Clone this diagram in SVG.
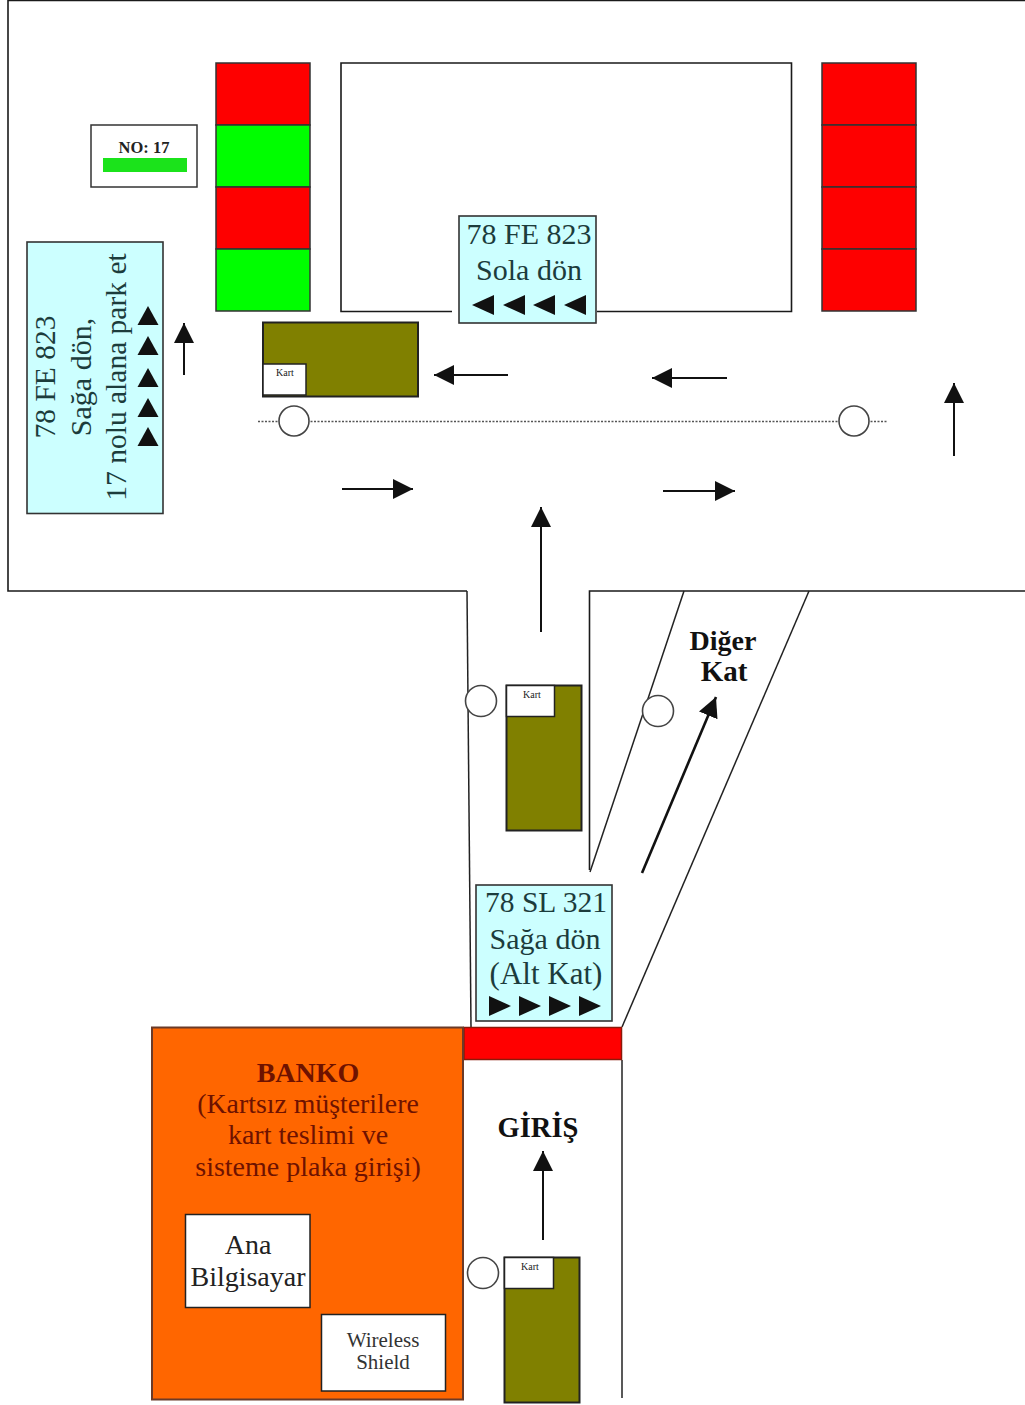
<svg xmlns="http://www.w3.org/2000/svg" width="1025" height="1405" viewBox="0 0 1025 1405">
<style>
text{font-family:"Liberation Serif","Times New Roman",serif;text-anchor:middle}
.w{fill:none;stroke:#1a1a1a;stroke-width:1.6}
.g{fill:none;stroke:#222;stroke-width:1.5}
.r{fill:#fe0000;stroke:#333;stroke-width:1.5}
.n{fill:#00fe00;stroke:#333;stroke-width:1.5}
.o{fill:#808000;stroke:#222;stroke-width:2}
.k{fill:#fff;stroke:#222;stroke-width:1.5}
.b{fill:#ccffff;stroke:#333;stroke-width:1.6}
.c{fill:#fff;stroke:#444;stroke-width:1.6}
.a{fill:none;stroke:#111;stroke-width:2;marker-end:url(#ah)}
.t{fill:#111;stroke:none}
.s{fill:#1c3c3c}
.kt{font-size:10px;fill:#222}
.d{fill:#6e1200}
</style>
<defs>
<marker id="ah" markerUnits="userSpaceOnUse" markerWidth="22" markerHeight="22" refX="20" refY="10" orient="auto"><path d="M0 0L20 10L0 20Z" fill="#111"/></marker>
<path id="tu" d="M-10.500 8L0 -11L10.500 8Z"/>
</defs>
<rect width="1025" height="1405" fill="#fff"/>

<g id="walls">
<path class="w" d="M1025 0.500H8V591H467"/>
<path class="w" d="M1025 591H589.500V870"/>
<path class="g" d="M467 591L471 1027"/>
<path class="g" d="M684 591L590 872"/>
<path class="g" d="M809 591L622 1027"/>
<path class="g" d="M622 1060V1398"/>
</g>

<g id="sensor-line"><path d="M258 421.500H888" fill="none" stroke="#555" stroke-width="1.500" stroke-dasharray="2 1.500"/></g>

<g id="slots-left">
<rect class="r" x="216" y="63" width="94" height="62"/>
<rect class="n" x="216" y="125" width="94" height="62"/>
<rect class="r" x="216" y="187" width="94" height="62"/>
<rect class="n" x="216" y="249" width="94" height="62"/>
</g>
<g id="building"><path class="w" d="M452 311.500H341V63H791.500V311.500H597"/></g>
<g id="slots-right">
<rect class="r" x="822" y="63" width="94" height="62"/>
<rect class="r" x="822" y="125" width="94" height="62"/>
<rect class="r" x="822" y="187" width="94" height="62"/>
<rect class="r" x="822" y="249" width="94" height="62"/>
</g>

<g id="no17">
<rect x="91" y="125" width="106" height="62" fill="#fff" stroke="#333" stroke-width="1.500"/>
<text x="144" y="153" font-size="16.500" font-weight="700" fill="#222">NO: 17</text>
<rect x="103" y="158" width="84" height="14" fill="#1be31b"/>
</g>

<g id="sign-left">
<rect class="b" x="27" y="242" width="136" height="271.500"/>
<g transform="translate(94 377) rotate(-90)">
<text class="s" x="0" y="-39" font-size="29.500">78 FE 823</text>
<text class="s" x="0" y="-3" font-size="30">Sağa dön,</text>
<text class="s" x="0" y="32" font-size="29.500">17 nolu alana park et</text>
</g>
<g class="t">
<use href="#tu" x="148" y="317"/><use href="#tu" x="148" y="347"/><use href="#tu" x="148" y="379"/><use href="#tu" x="148" y="409"/><use href="#tu" x="148" y="438"/>
</g>
</g>

<g id="sign-top">
<rect class="b" x="459" y="216" width="137" height="107"/>
<text class="s" x="529" y="244" font-size="30">78 FE 823</text>
<text class="s" x="529" y="280" font-size="30">Sola dön</text>
<g class="t">
<path d="M472 305L494 295V315Z"/><path d="M503 305L525 295V315Z"/><path d="M533 305L555 295V315Z"/><path d="M564 305L586 295V315Z"/>
</g>
</g>

<g id="car-top">
<rect class="o" x="263" y="322.500" width="155" height="74"/>
<rect class="k" x="263" y="364" width="43" height="31"/>
<text class="kt" x="285" y="376">Kart</text>
</g>
<g id="gate-top-left"><circle class="c" cx="294" cy="421" r="15"/></g>
<g id="gate-top-right"><circle class="c" cx="854" cy="421" r="15"/></g>

<g id="connectors">
<path class="a" d="M184 375V323"/>
<path class="a" d="M508 375H434"/>
<path class="a" d="M727 378H652"/>
<path class="a" d="M954 456V383"/>
<path class="a" d="M342 489H413"/>
<path class="a" d="M663 491H735"/>
<path class="a" d="M541 632V507"/>
<path class="a" style="stroke-width:2.600" d="M642 873L716 697"/>
<path class="a" d="M543 1240V1151"/>
</g>

<g id="gate-mid"><circle class="c" cx="481" cy="701" r="15.500"/></g>
<g id="gate-ramp"><circle class="c" cx="658" cy="711" r="15.500"/></g>
<g id="car-mid">
<rect class="o" x="506.500" y="685.500" width="75" height="145"/>
<rect class="k" x="506.500" y="685.500" width="48" height="31"/>
<text class="kt" x="532" y="698">Kart</text>
</g>

<g id="label-diger">
<text x="723" y="650" font-size="28" font-weight="700" fill="#111">Diğer</text>
<text x="724" y="681" font-size="29" font-weight="700" fill="#111">Kat</text>
</g>

<g id="sign-mid">
<rect class="b" x="476" y="885" width="136" height="136"/>
<text class="s" x="546" y="912" font-size="29.500">78 SL 321</text>
<text class="s" x="545" y="949" font-size="30">Sağa dön</text>
<text class="s" x="546" y="984" font-size="31">(Alt Kat)</text>
<g class="t">
<path d="M489 996L511 1006L489 1016Z"/><path d="M519 996L541 1006L519 1016Z"/><path d="M549 996L571 1006L549 1016Z"/><path d="M579 996L601 1006L579 1016Z"/>
</g>
</g>

<g id="barrier"><rect x="464" y="1027.500" width="157.500" height="32" fill="#f00" stroke="#8a1a0a" stroke-width="1.500"/></g>

<g id="banko">
<rect x="152" y="1027.500" width="311" height="372" fill="#ff6600" stroke="#6b3a28" stroke-width="2"/>
<text class="d" x="308" y="1082" font-size="28" font-weight="700">BANKO</text>
<text class="d" x="308" y="1113" font-size="27.800">(Kartsız müşterilere</text>
<text class="d" x="308" y="1144" font-size="28">kart teslimi ve</text>
<text class="d" x="308" y="1176" font-size="28">sisteme plaka girişi)</text>
</g>
<g id="ana">
<rect class="k" x="185.500" y="1214.500" width="124.500" height="93"/>
<text x="248" y="1254" font-size="28" fill="#222">Ana</text>
<text x="248" y="1286" font-size="28" fill="#222">Bilgisayar</text>
</g>
<g id="wireless">
<rect class="k" x="321.500" y="1314.500" width="124" height="76.500"/>
<text x="383" y="1347" font-size="21" fill="#333">Wireless</text>
<text x="383" y="1369" font-size="21" fill="#333">Shield</text>
</g>

<g id="label-giris"><text x="538" y="1137" font-size="28.500" font-weight="700" fill="#111">GİRİŞ</text></g>
<g id="gate-entry"><circle class="c" cx="483" cy="1273" r="15.500"/></g>
<g id="car-entry">
<rect class="o" x="504.500" y="1257.500" width="75" height="145"/>
<rect class="k" x="504.500" y="1257.500" width="49" height="31"/>
<text class="kt" x="530" y="1270">Kart</text>
</g>
</svg>
